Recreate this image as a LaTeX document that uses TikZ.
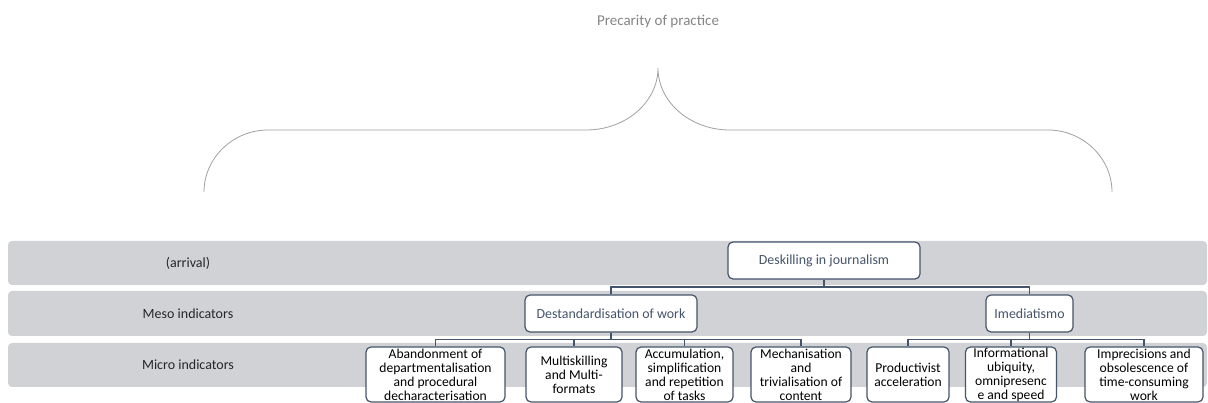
\documentclass[tikz,border=0pt]{standalone}
\usepackage{fontspec}
\setmainfont{Carlito}
\definecolor{bandgray}{HTML}{D1D2D6}
\definecolor{slate}{HTML}{44546A}
\definecolor{bracegray}{HTML}{A0A0A0}
\definecolor{titlegray}{HTML}{858585}
\begin{document}
\begin{tikzpicture}[x=1pt,y=-1pt,
  band/.style={fill=bandgray, rounded corners=4pt},
  bandlabel/.style={font=\fontsize{14}{16}\selectfont, text=black!85},
  levelbox/.style={draw=slate, line width=1.2pt, fill=white, rounded corners=5pt,
    inner sep=0pt, minimum height=37pt, text=slate,
    font=\fontsize{13.9}{15}\selectfont},
  microbox/.style={draw=slate, line width=1.2pt, fill=white, rounded corners=5pt,
    inner sep=0pt, minimum height=55pt, align=center, text=black,
    font=\fontsize{13.6}{14}\selectfont},
  conn/.style={draw=slate, line width=1.2pt},
  brace/.style={draw=bracegray, line width=0.8pt}
]
\useasboundingbox (0,0) rectangle (1208,403);

% title and brace
\node[text=titlegray, font=\fontsize{15}{17}\selectfont] (title) at (658,22) {Precarity of practice};
\draw[brace] (204,192) .. controls (204,158) and (233,130) .. (268,130) -- (586,130)
  .. controls (626,130) and (658,102) .. (658,68)
  .. controls (658,102) and (690,130) .. (730,130) -- (1048,130)
  .. controls (1083,130) and (1112,158) .. (1112,192);

% level bands
\fill[band] (8,241) rectangle (1207,285);
\fill[band] (8,291) rectangle (1207,336);
\fill[band] (8,343) rectangle (1207,387);
\node[bandlabel] (l1) at (188,263) {(arrival)};
\node[bandlabel] (l2) at (188,313.5) {Meso indicators};
\node[bandlabel] (l3) at (188,365) {Micro indicators};

% connector levels
\coordinate (lvl1) at (0,287);
\coordinate (lvl2) at (0,339.5);

% hierarchy
\node[levelbox, minimum width=192pt] (desk) at (824,260.5) {Deskilling in journalism};
\node[levelbox, minimum width=172pt] (destd) at (611,313.5) {Destandardisation of work};
\node[levelbox, minimum width=87pt] (imed) at (1029.5,313.5) {Imediatismo};

\node[microbox, minimum width=139pt] (m1) at (435.5,374.5) {Abandonment of\\departmentalisation\\and procedural\\decharacterisation};
\node[microbox, minimum width=96pt] (m2) at (574,374.5) {Multiskilling\\and Multi-\\formats};
\node[microbox, minimum width=97pt] (m3) at (684.5,374.5) {Accumulation,\\simplification\\and repetition\\of tasks};
\node[microbox, minimum width=100pt] (m4) at (801,374.5) {Mechanisation\\and\\trivialisation of\\content};
\node[microbox, minimum width=82pt] (m5) at (908,374.5) {Productivist\\acceleration};
\node[microbox, minimum width=91pt] (m6) at (1011,374.5) {Informational\\ubiquity,\\omnipresenc\\e and speed};
\node[microbox, minimum width=118pt] (m7) at (1144,374.5) {Imprecisions and\\obsolescence of\\time-consuming\\work};

\draw[conn] (desk.south) -- (desk.south |- lvl1) -| (destd.north);
\draw[conn] (desk.south) -- (desk.south |- lvl1) -| (imed.north);
\foreach \m in {m1,m2,m3,m4}
  \draw[conn] (destd.south) -- (destd.south |- lvl2) -| (\m.north);
\foreach \m in {m5,m6,m7}
  \draw[conn] (imed.south) -- (imed.south |- lvl2) -| (\m.north);
\end{tikzpicture}
\end{document}
